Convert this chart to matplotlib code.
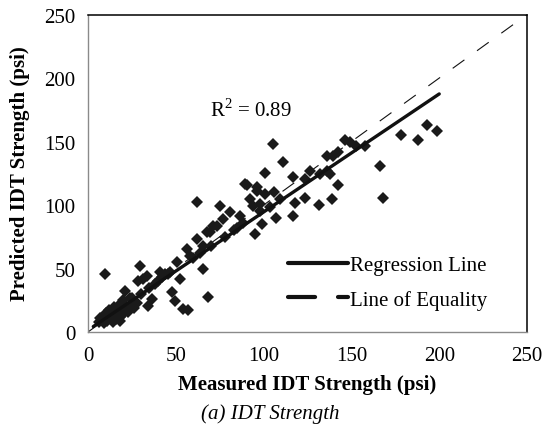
import numpy as np
import matplotlib
matplotlib.use('Agg')
import matplotlib.pyplot as plt
from matplotlib.lines import Line2D

# ── Measured vs predicted IDT strength (psi) ──────────────────────────────
measured = [
    193.1, 198.7, 178.2, 187.9, 166.3, 168.0, 157.7, 149.2, 152.6, 146.4,
    142.4, 138.9, 139.5, 105.4, 111.0, 100.8, 116.7, 123.6, 105.9, 136.1,
    137.8, 117.9, 123.6, 131.5, 107.1, 116.7, 95.1, 90.5, 96.2, 75.2,
    80.9, 94.0, 86.6, 67.8, 71.2, 65.5, 68.3, 62.1, 89.4, 126.4,
    132.0, 136.0, 142.4, 96.2, 100.8, 109.4, 97.9, 103.6, 92.0, 98.0,
    99.0, 56.4, 62.1, 69.5, 73.5, 76.9, 65.5, 58.1, 50.7, 46.7,
    52.4, 47.6, 49.5, 54.3, 57.0, 9.7, 29.6, 33.6, 28.5, 21.1,
    41.0, 45.6, 17.1, 36.4, 34.2, 31.3, 25.0, 30.0, 35.0, 38.0,
    40.0, 42.0, 44.0, 60.0, 64.0, 70.0, 78.0, 83.0, 85.0, 88.0,
    6.0, 8.0, 9.0, 10.0, 11.0, 12.0, 13.0, 14.0, 15.0, 16.0,
    17.0, 18.0, 19.0, 20.0, 21.0, 22.0, 23.0, 25.0, 26.0, 12.0,
    15.0, 20.0, 24.0, 28.0, 7.0, 10.0, 14.0, 18.0,
]
predicted = [
    163.0, 158.3, 155.1, 151.2, 130.7, 105.5, 146.5, 149.6, 146.5, 151.2,
    115.7, 104.7, 138.6, 148.0, 133.9, 125.2, 122.0, 120.5, 110.2, 138.6,
    124.4, 101.6, 105.5, 100.0, 89.8, 91.3, 77.2, 115.7, 111.0, 99.2,
    94.5, 99.2, 91.3, 78.7, 83.5, 49.6, 27.6, 102.4, 116.5, 127.0,
    124.4, 127.0, 141.7, 114.2, 108.7, 104.7, 100.8, 98.4, 105.0, 95.0,
    85.0, 65.4, 73.2, 78.7, 83.5, 89.0, 67.7, 59.8, 55.1, 47.2,
    41.7, 31.3, 24.6, 18.1, 17.5, 45.7, 52.0, 44.1, 40.2, 32.3,
    47.2, 45.7, 20.5, 26.0, 20.5, 41.7, 27.0, 30.0, 35.0, 38.0,
    40.0, 43.0, 46.0, 58.0, 62.0, 68.0, 75.0, 80.0, 82.0, 86.0,
    8.0, 10.0, 7.0, 12.0, 9.0, 14.0, 11.0, 8.0, 13.0, 10.0,
    15.0, 12.0, 18.0, 14.0, 17.0, 20.0, 16.0, 22.0, 19.0, 17.0,
    20.0, 25.0, 27.0, 23.0, 11.0, 15.0, 17.0, 9.0,
]

# regression line y = slope * x + intercept, fitted range
reg_slope = 0.93
reg_intercept = 1.5
reg_x = [3, 200]
equality_x = [0, 250]
r2_text = 'R$^2$ = 0.89'

FS = 15

plt.rcParams['font.family'] = ['Liberation Serif', 'DejaVu Serif']
plt.rcParams['mathtext.fontset'] = 'custom'
plt.rcParams['mathtext.rm'] = 'Liberation Serif'

fig = plt.figure(figsize=(5.44, 4.39), dpi=100)
ax = fig.add_axes([0.1618, 0.2415, 0.807, 0.723])

ax.plot(measured, predicted, linestyle='none', marker='D', markersize=6.5,
        markerfacecolor='#1a1a1a', markeredgewidth=0, zorder=3)

reg_y = [reg_slope * v + reg_intercept for v in reg_x]
ax.plot(reg_x, reg_y, color='#111111', linewidth=2.4, solid_capstyle='round', zorder=4)
ax.plot(equality_x, equality_x, color='#111111', linewidth=0.8,
        linestyle=(0, (13, 14)), zorder=2)

ax.text(69.5, 175, r2_text, fontsize=FS, va='center', ha='left')

ax.set_xlim(0, 250)
ax.set_ylim(0, 250)
ax.set_xticks([0, 50, 100, 150, 200, 250])
ax.set_yticks([0, 50, 100, 150, 200, 250])
ax.tick_params(axis='both', length=0, labelsize=FS)
ax.tick_params(axis='x', pad=10)
ax.tick_params(axis='y', pad=9)

for side in ['top', 'right']:
    ax.spines[side].set_color('black')
    ax.spines[side].set_linewidth(1.1)
for side in ['left', 'bottom']:
    ax.spines[side].set_color('#8a8a8a')
    ax.spines[side].set_linewidth(1.0)

handles = [
    Line2D([], [], color='#111111', linewidth=3, solid_capstyle='round'),
    Line2D([], [], color='#111111', linewidth=3, linestyle=(0, (6.5, 5.5)),
           dash_capstyle='round'),
]
ax.legend(handles, ['Regression Line', 'Line of Equality'], loc='center left',
          bbox_to_anchor=(0.456, 0.156), frameon=False, fontsize=FS,
          handlelength=2.85, handletextpad=0.1, labelspacing=0.7,
          borderpad=0, borderaxespad=0)

fig.text(0.564, 0.123, 'Measured IDT Strength (psi)', fontsize=FS,
         fontweight='bold', ha='center', va='center')
fig.text(0.037, 0.604, 'Predicted IDT Strength (psi)', fontsize=FS,
         fontweight='bold', ha='center', va='center', rotation=90)
fig.text(0.496, 0.0556, '(a) IDT Strength', fontsize=FS, style='italic',
         ha='center', va='center')

fig.savefig('out.png', dpi=100)
